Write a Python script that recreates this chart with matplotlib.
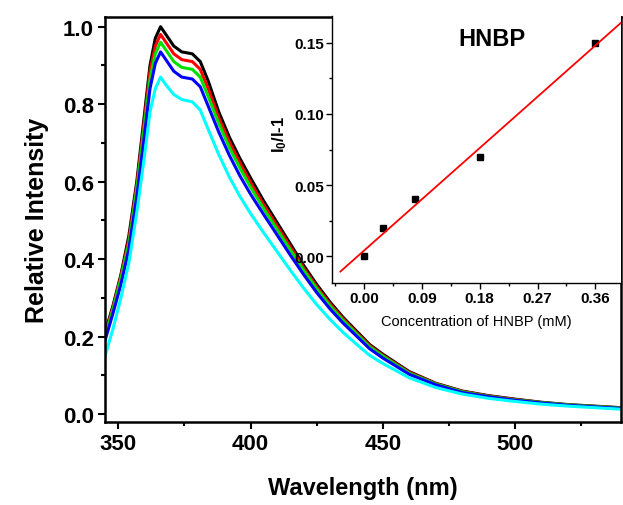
import matplotlib
matplotlib.use('Agg')
import matplotlib.pyplot as plt
import numpy as np
from matplotlib.ticker import MultipleLocator, FormatStrFormatter

plt.rcParams['font.family'] = ['Liberation Sans', 'DejaVu Sans']
plt.rcParams['mathtext.default'] = 'regular'

# emission spectra, wavelength in nm
wavelength = [345, 348, 351, 354, 357, 360, 362, 364, 366, 368, 371, 374, 378, 381, 384,
              388, 392, 396, 400, 405, 410, 415, 420, 425, 430, 435, 440, 445, 450, 460,
              470, 480, 490, 500, 510, 520, 530, 540]
black_curve = [0.21, 0.28, 0.36, 0.46, 0.60, 0.78, 0.90, 0.97, 1.00, 0.98, 0.95, 0.935, 0.93, 0.91, 0.86,
               0.78, 0.715, 0.66, 0.61, 0.55, 0.495, 0.44, 0.385, 0.335, 0.29, 0.25, 0.215, 0.18, 0.155, 0.11,
               0.08, 0.06, 0.048, 0.039, 0.031, 0.025, 0.021, 0.017]
red_curve = [0.205, 0.275, 0.355, 0.45, 0.59, 0.765, 0.885, 0.95, 0.98, 0.96, 0.93, 0.915, 0.91, 0.89, 0.84,
             0.765, 0.702, 0.648, 0.598, 0.54, 0.486, 0.432, 0.378, 0.329, 0.285, 0.246, 0.211, 0.177, 0.152, 0.108,
             0.079, 0.059, 0.047, 0.038, 0.030, 0.024, 0.020, 0.016]
green_curve = [0.20, 0.27, 0.35, 0.44, 0.58, 0.75, 0.865, 0.93, 0.96, 0.94, 0.91, 0.895, 0.89, 0.87, 0.82,
               0.75, 0.688, 0.635, 0.586, 0.53, 0.477, 0.424, 0.372, 0.324, 0.28, 0.242, 0.208, 0.174, 0.15, 0.106,
               0.078, 0.058, 0.046, 0.037, 0.030, 0.024, 0.020, 0.016]
blue_curve = [0.19, 0.26, 0.335, 0.425, 0.56, 0.725, 0.84, 0.905, 0.935, 0.915, 0.885, 0.87, 0.865, 0.845, 0.795,
              0.728, 0.668, 0.615, 0.568, 0.515, 0.463, 0.411, 0.361, 0.314, 0.272, 0.235, 0.202, 0.169, 0.145, 0.103,
              0.076, 0.056, 0.045, 0.036, 0.029, 0.023, 0.019, 0.015]
cyan_curve = [0.15, 0.22, 0.30, 0.39, 0.52, 0.67, 0.78, 0.84, 0.87, 0.85, 0.825, 0.812, 0.806, 0.785, 0.735,
              0.67, 0.612, 0.562, 0.518, 0.468, 0.42, 0.372, 0.326, 0.283, 0.245, 0.211, 0.181, 0.152, 0.131, 0.094,
              0.069, 0.052, 0.041, 0.033, 0.026, 0.021, 0.017, 0.013]

# inset: Stern-Volmer data
conc = [0.0, 0.03, 0.08, 0.18, 0.36]
ratio = [0.0, 0.02, 0.04, 0.07, 0.15]

fig = plt.figure(figsize=(6.23, 5.06), dpi=100)
ax = fig.add_axes([105 / 623, 83 / 506, 516 / 623, 405 / 506])

curves = [(black_curve, 'black'), (red_curve, 'red'), (green_curve, '#00e000'),
          (blue_curve, 'blue'), (cyan_curve, 'cyan')]
for vals, col in curves:
    ax.plot(wavelength, vals, color=col, lw=2.2)

ax.set_xlim(345, 540)
ax.set_ylim(-0.02, 1.025)
ax.xaxis.set_major_locator(MultipleLocator(50))
ax.xaxis.set_minor_locator(MultipleLocator(25))
ax.yaxis.set_major_locator(MultipleLocator(0.2))
ax.yaxis.set_minor_locator(MultipleLocator(0.1))
ax.yaxis.set_major_formatter(FormatStrFormatter('%.1f'))
for s in ax.spines.values():
    s.set_linewidth(1.8)
ax.tick_params(which='major', direction='out', length=5, width=1.5, labelsize=16, pad=3)
ax.tick_params(which='minor', direction='out', length=3, width=1.5)
for lab in ax.get_xticklabels() + ax.get_yticklabels():
    lab.set_fontweight('bold')
ax.set_xlabel('Wavelength (nm)', fontsize=17, fontweight='bold', labelpad=16)
ax.set_ylabel('Relative Intensity', fontsize=18, fontweight='bold', labelpad=10)

# inset
ins = fig.add_axes([332 / 623, 222 / 506, 289 / 623, 267 / 506])
ins.plot(conc, ratio, 's', color='black', ms=4.5)
slope, icpt = np.polyfit(conc, ratio, 1)
fit_x = np.array([-0.037, 0.40])
ins.plot(fit_x, slope * fit_x + icpt, color='red', lw=1.3)
ins.set_xlim(-0.05, 0.40)
ins.set_ylim(-0.019, 0.169)
ins.xaxis.set_major_locator(MultipleLocator(0.09))
ins.xaxis.set_minor_locator(MultipleLocator(0.045))
ins.yaxis.set_major_locator(MultipleLocator(0.05))
ins.yaxis.set_minor_locator(MultipleLocator(0.025))
ins.xaxis.set_major_formatter(FormatStrFormatter('%.2f'))
ins.yaxis.set_major_formatter(FormatStrFormatter('%.2f'))
ins.spines['top'].set_visible(False)
ins.spines['right'].set_visible(False)
for s in ['left', 'bottom']:
    ins.spines[s].set_linewidth(1.0)
ins.tick_params(which='major', direction='out', length=4, width=1.0, labelsize=11, pad=2)
ins.tick_params(which='minor', direction='out', length=2.5, width=1.0)
for lab in ins.get_xticklabels() + ins.get_yticklabels():
    lab.set_fontweight('bold')
ins.set_xlabel('Concentration of HNBP (mM)', fontsize=10.5, labelpad=6)
ins.set_ylabel('I$_0$/I-1', fontsize=12, fontweight='bold', labelpad=4)
ins.yaxis.set_label_coords(-0.15, 0.56)
ins.text(0.554, 0.915, 'HNBP', transform=ins.transAxes, ha='center', va='center',
         fontsize=17, fontweight='bold')

fig.savefig('out.png', dpi=100)
